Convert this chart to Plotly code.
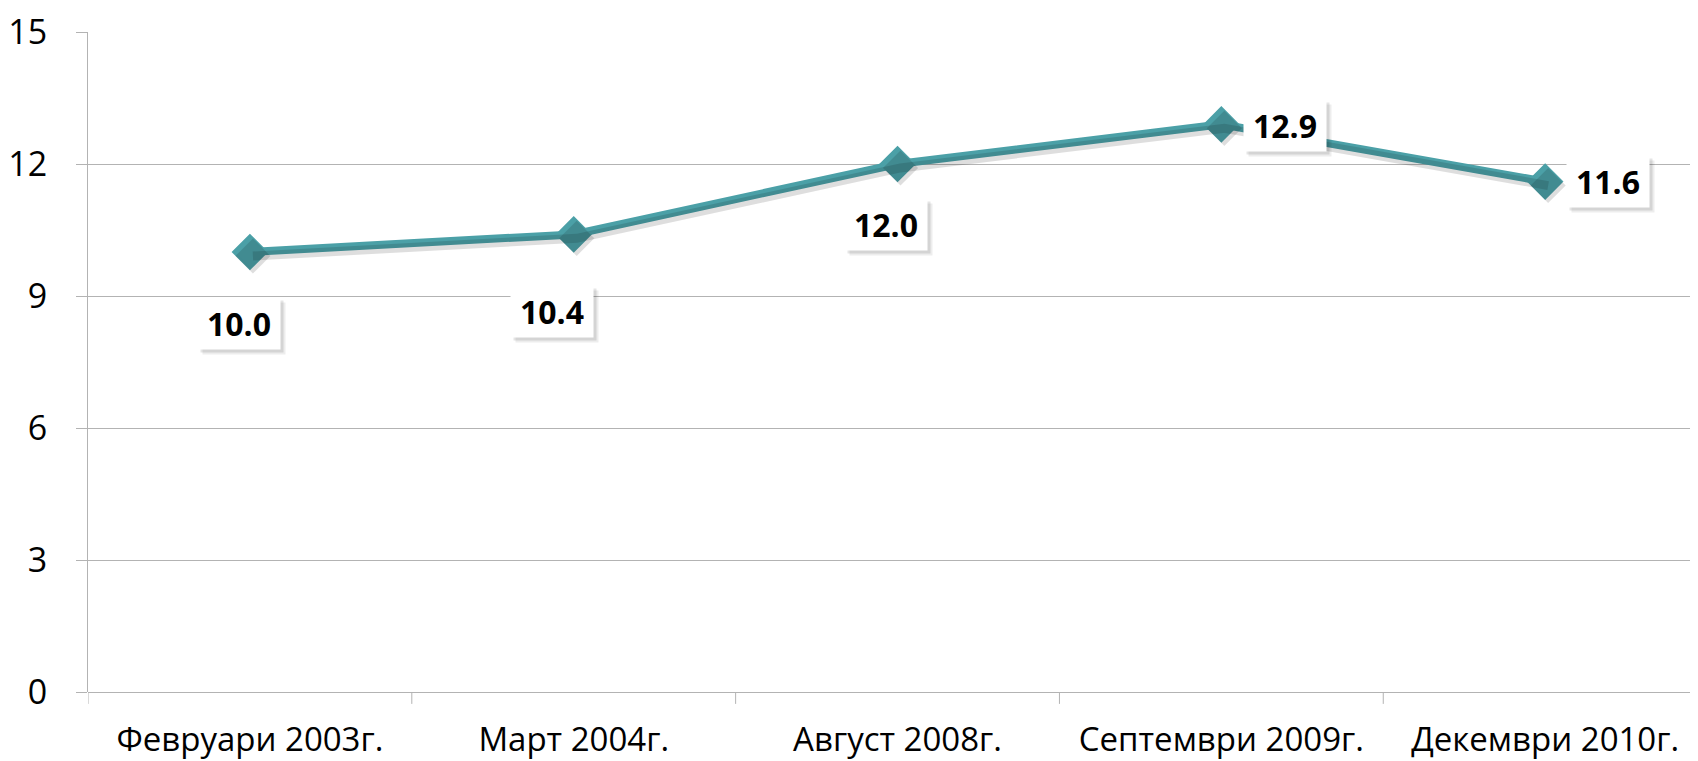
import plotly.graph_objects as go

categories = ["Февруари 2003г.", "Март 2004г.", "Август 2008г.", "Септември 2009г.", "Декември 2010г."]
values = [10.0, 10.4, 12.0, 12.9, 11.6]
label_text = ["10.0", "10.4", "12.0", "12.9", "11.6"]
y_ticks = [0, 3, 6, 9, 12, 15]

# label offsets in pixels (dx right, dy down)
label_dx = [-11, -22, -12, 64, 63]
label_dy = [71, 77, 60, 1, 0]

LINE = "#4BA0A7"
GRID = "#B3B3B3"
PAGE = 8  # browser default body margin
W, H = 1698 - PAGE, 761 - PAGE
ML, MR, MT, MB = 82 - PAGE, 0, 27 - PAGE, 68
xr = [-0.5, 4.472]
yr = [0, 15]
pxx = (W - ML - MR) / (xr[1] - xr[0])
pxy = (H - MT - MB) / (yr[1] - yr[0])
sx, sy = 3, 4  # shadow offset px

fig = go.Figure()
idx = list(range(len(categories)))

# shadow
fig.add_trace(go.Scatter(
    x=idx, y=values, mode="lines+markers", xaxis="x2", yaxis="y2",
    line=dict(color="rgba(0,0,0,0.13)", width=9),
    marker=dict(symbol="diamond", size=27, color="rgba(0,0,0,0.13)"),
    hoverinfo="skip", showlegend=False))

fig.add_trace(go.Scatter(
    x=idx, y=values, mode="lines+markers",
    line=dict(color=LINE, width=8),
    marker=dict(symbol="diamond", size=26, color=LINE, line=dict(color=LINE, width=2)),
    showlegend=False))

BW, BH, BP = 70, 39, 6
for i, (v, t) in enumerate(zip(values, label_text)):
    for off, alpha in ((5, 0.07), (3, 0.10)):
        fig.add_annotation(x=i, y=v, xref="x", yref="y", text="&nbsp;", showarrow=False,
                           xshift=label_dx[i] + off, yshift=-label_dy[i] - off,
                           width=BW, height=BH, borderpad=BP,
                           font=dict(family="Open Sans", size=32, color="rgba(0,0,0,0)"),
                           bgcolor=f"rgba(0,0,0,{alpha})")
    fig.add_annotation(x=i, y=v, xref="x", yref="y", text=t, showarrow=False,
                       xshift=label_dx[i], yshift=-label_dy[i],
                       width=BW, height=BH, borderpad=BP,
                       font=dict(family="Open Sans", size=32, color="black", weight="bold"),
                       bgcolor="white")

fig.update_layout(
    width=W, height=H,
    margin=dict(l=ML, r=MR, t=MT, b=MB),
    paper_bgcolor="white", plot_bgcolor="white",
    font=dict(family="Open Sans", color="black"),
    xaxis=dict(type="linear", range=xr, tickmode="array", tickvals=idx, ticktext=categories,
               showgrid=False, zeroline=False, showline=False,
               ticks="", tickfont=dict(size=33, family="Open Sans"),
               ticklabelstandoff=25),
    yaxis=dict(range=yr, tickmode="array", tickvals=y_ticks, showgrid=True, gridcolor=GRID,
               gridwidth=1, zeroline=True, zerolinecolor=GRID, zerolinewidth=1,
               showline=True, linecolor=GRID, linewidth=1,
               ticks="outside", ticklen=11, tickcolor=GRID, ticklabeloverflow="allow",
               tickfont=dict(size=34, family="Open Sans"), ticklabelstandoff=22),
    xaxis2=dict(overlaying="x", range=[xr[0] - sx / pxx, xr[1] - sx / pxx], visible=False),
    yaxis2=dict(overlaying="y", range=[yr[0] + sy / pxy, yr[1] + sy / pxy], visible=False),
)

# category boundary ticks below the axis
bounds = [i - 0.5 for i in range(len(categories) + 1)]
for b in bounds:
    fig.add_shape(type="line", xref="x", yref="paper", x0=b, x1=b, y0=0, y1=-12 / (H - MT - MB),
                  line=dict(color=GRID, width=1))

fig.write_html("out.html")
